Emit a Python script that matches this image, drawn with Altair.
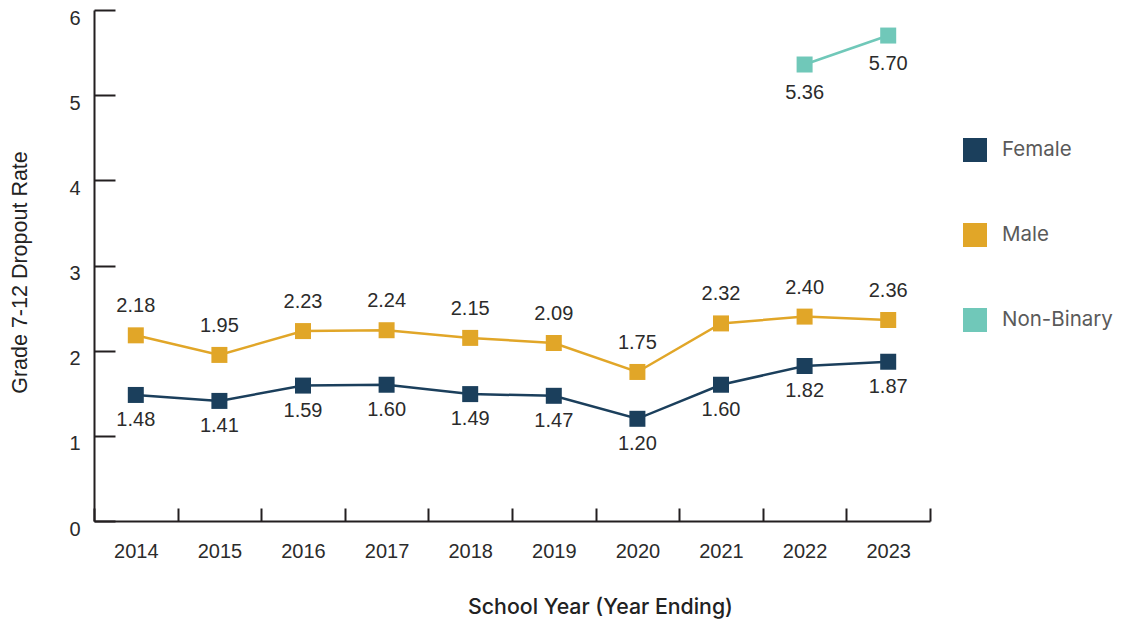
import altair as alt
import pandas as pd

years = [2014, 2015, 2016, 2017, 2018, 2019, 2020, 2021, 2022, 2023]
female = [1.48, 1.41, 1.59, 1.60, 1.49, 1.47, 1.20, 1.60, 1.82, 1.87]
male = [2.18, 1.95, 2.23, 2.24, 2.15, 2.09, 1.75, 2.32, 2.40, 2.36]
nb_years = [2022, 2023]
nonbinary = [5.36, 5.70]
series_names = ["Female", "Male", "Non-Binary"]
series_colors = ["#1B3F5C", "#E1A628", "#70C8B9"]
y_ticks = [0, 1, 2, 3, 4, 5, 6]

rows = []
for yr, v in zip(years, female):
    rows.append({"year": yr, "rate": v, "series": "Female"})
for yr, v in zip(years, male):
    rows.append({"year": yr, "rate": v, "series": "Male"})
for yr, v in zip(nb_years, nonbinary):
    rows.append({"year": yr, "rate": v, "series": "Non-Binary"})
df = pd.DataFrame(rows)

AXIS_COLOR = "#231F20"
NUM_FONT = "Liberation Sans"
TEXT_FONT = "Inter"

x = alt.X(
    "year:O",
    scale=alt.Scale(type="band", paddingInner=0, paddingOuter=0),
    axis=alt.Axis(
        title="School Year (Year Ending)",
        labelAngle=0,
        tickBand="extent",
        tickSize={"expr": "-13"},
        tickWidth=2,
        tickColor=AXIS_COLOR,
        domainColor=AXIS_COLOR,
        domainWidth=2,
        labelFont=NUM_FONT,
        labelFontSize=20,
        labelColor="#2B2B2B",
        labelPadding=33,
        titleFont=TEXT_FONT,
        titleFontSize=21.3,
        titleFontWeight=500,
        titleColor="#222222",
        titleX=506,
        titleY=75,
        titleBaseline="top",
        grid=False,
    ),
)
y = alt.Y(
    "rate:Q",
    scale=alt.Scale(domain=[0, 6], nice=False, zero=True),
    axis=alt.Axis(
        title="Grade 7-12 Dropout Rate",
        values=y_ticks,
        tickSize={"expr": "-21"},
        tickWidth=2,
        tickColor=AXIS_COLOR,
        domainColor=AXIS_COLOR,
        domainWidth=2,
        labelFont=NUM_FONT,
        labelFontSize=20,
        labelColor="#2B2B2B",
        labelPadding=35,
        labelOffset=8,
        titleFont=NUM_FONT,
        titleFontSize=21.5,
        titleFontWeight=500,
        titleColor="#222222",
        titleX=-63,
        titleY=262,
        grid=False,
    ),
)
color_scale = alt.Scale(domain=series_names, range=series_colors)

base = alt.Chart(df)


def line_for(name, col):
    return base.transform_filter(alt.datum.series == name).mark_line(
        strokeWidth=2.5, color=col
    ).encode(x=x, y=y)


points = base.mark_point(shape="square", filled=True, size=256, opacity=1).encode(
    x=x,
    y=y,
    color=alt.Color(
        "series:N",
        scale=color_scale,
        legend=alt.Legend(
            title=None,
            orient="none",
            legendX=869,
            legendY=128,
            symbolType="square",
            symbolSize=576,
            symbolStrokeWidth=0,
            symbolOpacity=1,
            labelFont=TEXT_FONT,
            labelFontSize=20.5,
            labelColor="#5A5A5A",
            labelOffset=15,
            labelLimit=200,
            rowPadding=61,
        ),
    ),
)


def labels(name, dy):
    return base.transform_filter(alt.datum.series == name).mark_text(
        dy=dy, font=NUM_FONT, fontSize=20, color="#2B2B2B"
    ).encode(x=x, y=y, text=alt.Text("rate:Q", format=".2f"))


chart = alt.layer(
    line_for(series_names[0], series_colors[0]),
    line_for(series_names[1], series_colors[1]),
    line_for(series_names[2], series_colors[2]),
    points,
    labels("Female", 25),
    labels("Male", -29),
    labels("Non-Binary", 28),
).properties(
    width=836,
    height=511,
    autosize="none",
    padding={"left": 86, "top": 2, "right": 183, "bottom": 100},
).configure_view(stroke=None)

chart.save("out.html", embed_options={"renderer": "svg", "actions": False})
